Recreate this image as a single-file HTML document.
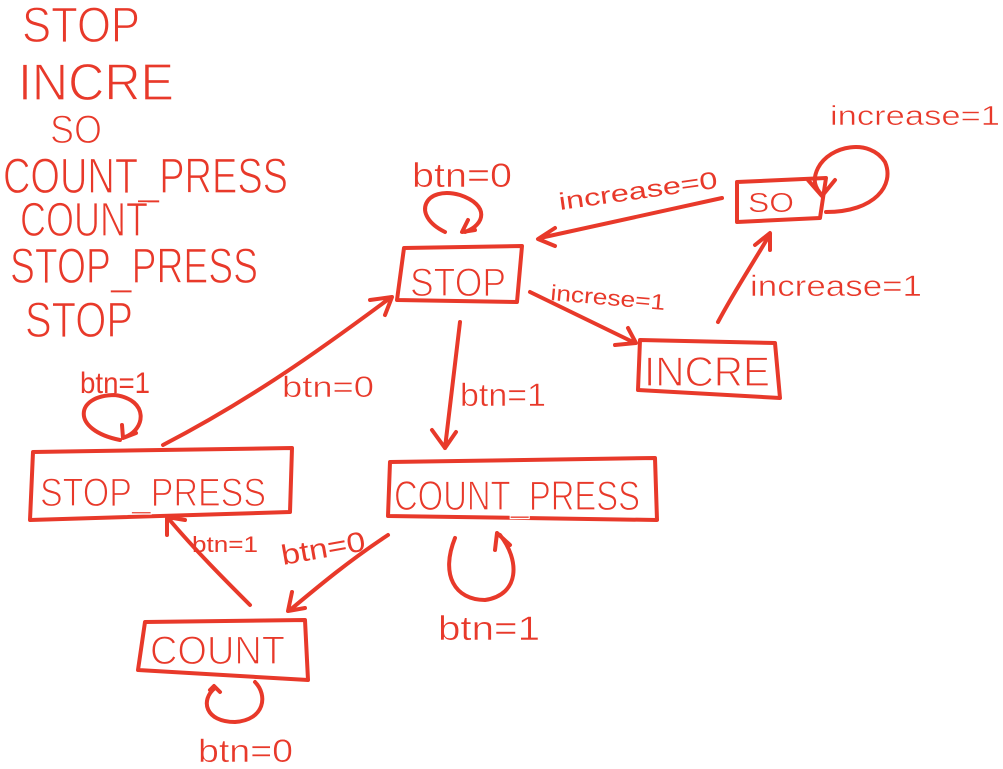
<!DOCTYPE html>
<html><head><meta charset="utf-8"><style>
html,body{margin:0;padding:0;background:#fff;width:1003px;height:769px;overflow:hidden}
svg{display:block}
text{font-family:"Liberation Sans",sans-serif;fill:#e8392a}
text.t{stroke:#fff;stroke-width:1.2px}
text.s{stroke:#fff;stroke-width:0.5px}
</style></head><body>
<svg width="1003" height="769" viewBox="0 0 1003 769" xmlns="http://www.w3.org/2000/svg">
<g>
<text class="t" x="22" y="42" font-size="50" textLength="118" lengthAdjust="spacingAndGlyphs">STOP</text>
<text class="t" x="18" y="100" font-size="52" textLength="156" lengthAdjust="spacingAndGlyphs">INCRE</text>
<text class="t" x="50" y="143" font-size="40" textLength="52" lengthAdjust="spacingAndGlyphs">SO</text>
<text class="t" x="3" y="193" font-size="50" textLength="285" lengthAdjust="spacingAndGlyphs">COUNT_PRESS</text>
<text class="t" x="20" y="236" font-size="48" textLength="128" lengthAdjust="spacingAndGlyphs">COUNT</text>
<text class="t" x="10" y="283" font-size="50" textLength="248" lengthAdjust="spacingAndGlyphs">STOP_PRESS</text>
<text class="t" x="25" y="337" font-size="50" textLength="108" lengthAdjust="spacingAndGlyphs">STOP</text>
</g>
<g fill="none" stroke="#e8392a" stroke-width="4" stroke-linecap="round" stroke-linejoin="round">
<path d="M404 248 L522 246 L517 302 L397 300 Z"/>
<path d="M737 182 L826 178 L820 218 L737 222 Z"/>
<path d="M640 340 L775 343 L780 398 L638 390 Z"/>
<path d="M390 462 L655 458 L657 520 L388 516 Z"/>
<path d="M33 452 L292 448 L290 512 L30 520 Z"/>
<path d="M145 622 L305 620 L308 680 L138 670 Z"/>
<path d="M445 232 C410 215 425 185 460 195 C490 205 485 225 465 232 M468 220 L462 232 L475 230"/>
<path d="M120 440 C70 430 75 395 115 395 C150 400 145 430 125 437 M122 425 L123 438 L136 433"/>
<path d="M826 212 C875 212 895 185 885 162 C870 138 830 145 818 168 C812 180 815 188 822 195 M808 180 L822 196 L835 180"/>
<path d="M455 538 C440 575 455 600 485 600 C520 595 520 560 500 535 M495 550 L497 533 L510 545"/>
<path d="M215 688 C200 700 205 722 235 722 C265 720 268 695 255 682 M210 690 L214 686 L220 692"/>
<path d="M722 198 L540 238 M555 228 L538 239 L555 246"/>
<path d="M530 292 L635 343 M615 345 L636 343 L628 328"/>
<path d="M718 322 C735 290 755 260 770 234 M755 245 L770 233 L770 250"/>
<path d="M460 322 L445 448 M432 430 L445 448 L456 432"/>
<path d="M163 445 C250 400 320 350 390 298 M370 300 L392 297 L385 315"/>
<path d="M388 535 C350 560 320 585 290 610 M292 592 L288 611 L305 608"/>
<path d="M250 605 C225 580 195 550 168 518 M167 535 L167 517 L185 520"/>
</g>
<g>
<text class="s" x="412" y="187" font-size="34" textLength="100" lengthAdjust="spacingAndGlyphs">btn=0</text>
<text x="560" y="210" font-size="24" textLength="160" lengthAdjust="spacingAndGlyphs" transform="rotate(-8 560 210)">increase=0</text>
<text class="s" x="830" y="125" font-size="28" textLength="170" lengthAdjust="spacingAndGlyphs">increase=1</text>
<text x="550" y="300" font-size="22" textLength="115" lengthAdjust="spacingAndGlyphs" transform="rotate(5 550 300)">increse=1</text>
<text class="s" x="750" y="296" font-size="30" textLength="172" lengthAdjust="spacingAndGlyphs">increase=1</text>
<text class="s" x="748" y="212" font-size="28" textLength="46" lengthAdjust="spacingAndGlyphs">SO</text>
<text class="t" x="410" y="296" font-size="40" textLength="96" lengthAdjust="spacingAndGlyphs">STOP</text>
<text class="t" x="644" y="386" font-size="42" textLength="126" lengthAdjust="spacingAndGlyphs">INCRE</text>
<text class="s" x="460" y="406" font-size="32" textLength="86" lengthAdjust="spacingAndGlyphs">btn=1</text>
<text class="t" x="394" y="510" font-size="42" textLength="246" lengthAdjust="spacingAndGlyphs">COUNT_PRESS</text>
<text class="t" x="40" y="506" font-size="40" textLength="226" lengthAdjust="spacingAndGlyphs">STOP_PRESS</text>
<text x="80" y="393" font-size="30" textLength="70" lengthAdjust="spacingAndGlyphs">btn=1</text>
<text class="s" x="282" y="397" font-size="30" textLength="92" lengthAdjust="spacingAndGlyphs">btn=0</text>
<text x="192" y="552" font-size="22" textLength="66" lengthAdjust="spacingAndGlyphs">btn=1</text>
<text x="283" y="565" font-size="28" textLength="85" lengthAdjust="spacingAndGlyphs" transform="rotate(-10 283 565)">btn=0</text>
<text class="t" x="150" y="664" font-size="40" textLength="135" lengthAdjust="spacingAndGlyphs">COUNT</text>
<text class="s" x="438" y="640" font-size="34" textLength="102" lengthAdjust="spacingAndGlyphs">btn=1</text>
<text class="s" x="198" y="762" font-size="32" textLength="95" lengthAdjust="spacingAndGlyphs">btn=0</text>
</g>
</svg>
</body></html>
